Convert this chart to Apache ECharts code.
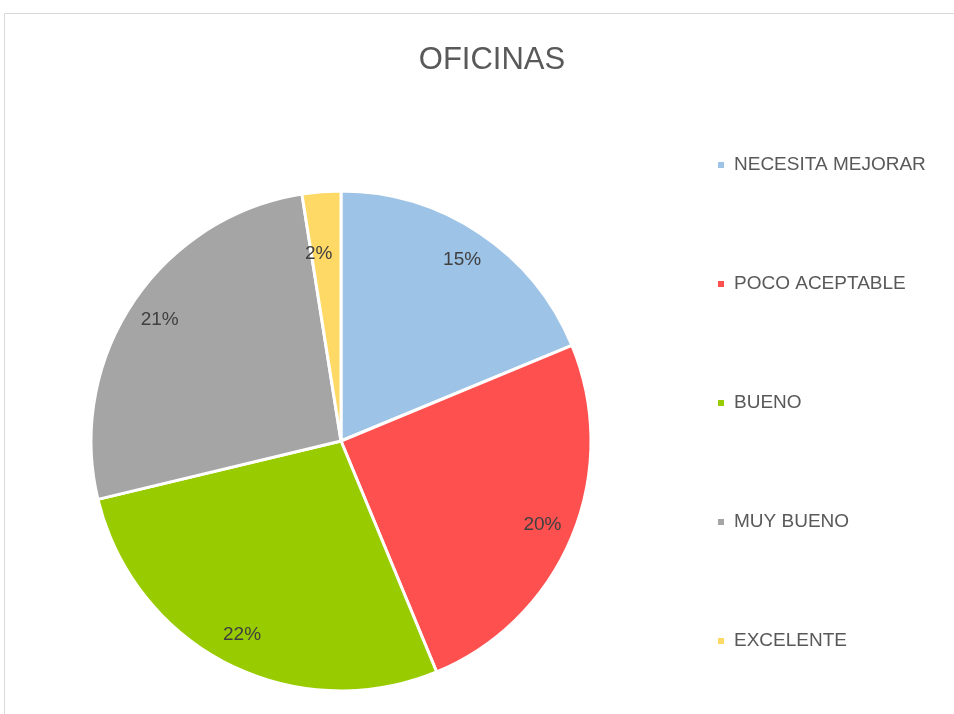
<!DOCTYPE html>
<html>
<head>
<meta charset="utf-8">
<script src="https://cdn.jsdelivr.net/npm/echarts@6/dist/echarts.min.js"></script>
<style>
  html, body { margin: 0; padding: 0; background: #fff; }
  #chart { width: 954px; height: 714px; }
</style>
</head>
<body>
<div id="chart"></div>
<script>
const categories = ["NECESITA MEJORAR", "POCO ACEPTABLE", "BUENO", "MUY BUENO", "EXCELENTE"];
const values = [15, 20, 22, 21, 2];
const colors = ["#9DC3E6", "#FF5050", "#99CC00", "#A5A5A5", "#FFD966"];

const chart = echarts.init(document.getElementById("chart"));

const sliceData = categories.map((name, i) => ({
  name,
  value: values[i],
  itemStyle: { color: colors[i] }
}));

// the thin slice's label sits a bit further in, as in the original
const labelData = categories.map((name, i) => {
  const item = { name, value: values[i] };
  if (values[i] < 5) item.label = { formatter: "\n\n\n{c}%  ", lineHeight: 20 };
  return item;
});

chart.setOption({
  animation: false,
  graphic: [{
    type: "rect",
    shape: { x: 4.5, y: 13.5, width: 1000, height: 800 },
    style: { fill: "none", stroke: "#D9D9D9", lineWidth: 1 },
    silent: true
  }],
  title: {
    text: "OFICINAS",
    left: 487,
    top: 40,
    textAlign: "center",
    textStyle: {
      fontFamily: "Liberation Sans, Arial, sans-serif",
      fontWeight: "normal",
      fontSize: 31,
      color: "#595959"
    }
  },
  legend: {
    orient: "vertical",
    left: 716,
    top: 155,
    padding: 0,
    itemWidth: 8,
    itemHeight: 8,
    itemGap: 99,
    icon: "rect",
    data: categories,
    textStyle: {
      fontFamily: "Liberation Sans, Arial, sans-serif",
      fontSize: 19,
      lineHeight: 20,
      color: "#595959",
      padding: [0, 0, 0, 4]
    }
  },
  series: [
    {
      type: "pie",
      center: [341, 441],
      radius: [0, 250],
      startAngle: 90,
      clockwise: true,
      label: { show: false },
      labelLine: { show: false },
      itemStyle: { borderColor: "#fff", borderWidth: 3 },
      emphasis: { disabled: true },
      data: sliceData
    },
    {
      type: "pie",
      center: [341, 441],
      radius: [180, 250],
      startAngle: 90,
      clockwise: true,
      silent: true,
      itemStyle: { color: "transparent", borderWidth: 0 },
      label: {
        show: true,
        position: "inside",
        formatter: "{c}%",
        fontFamily: "Liberation Sans, Arial, sans-serif",
        fontSize: 19,
        color: "#404040"
      },
      labelLine: { show: false },
      emphasis: { disabled: true },
      data: labelData
    }
  ]
});
</script>
</body>
</html>
